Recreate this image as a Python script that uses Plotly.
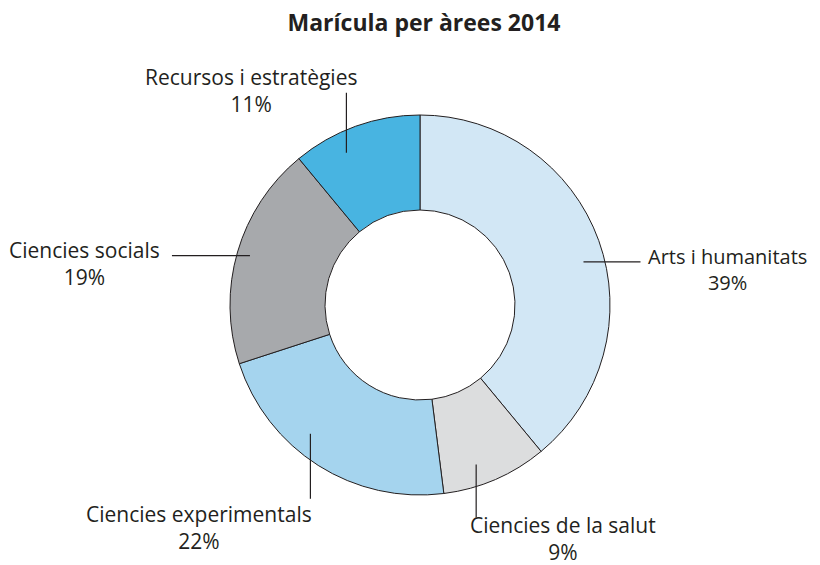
import math

import plotly.graph_objects as go

# dades
areas = [
    "Arts i humanitats",
    "Ciencies de la salut",
    "Ciencies experimentals",
    "Ciencies socials",
    "Recursos i estratègies",
]
percentatges = [39, 9, 22, 19, 11]
colors = ["#D2E7F5", "#DCDDDE", "#A5D4EE", "#A7A9AC", "#48B4E1"]

FONT = "Open Sans"
TEXT_COLOR = "#231F20"

# estil de les etiquetes: gir de l'angle (graus), radi d'inici de la línia (paper),
# direcció de la línia, longitud (px), ancoratge, desplaçament i mida del text
label_style = {
    "Arts i humanitats": {"dang": 5, "r": 0.445, "dir": (1, 0), "len": 57, "xanchor": "left", "dx": 6, "dy": -8, "size": 20},
    "Ciencies de la salut": {"dang": 4, "r": 0.445, "dir": (0, -1), "len": 53, "xanchor": "left", "dx": -8, "dy": -21, "size": 21},
    "Ciencies experimentals": {"dang": 8, "r": 0.445, "dir": (0, -1), "len": 65, "xanchor": "right", "dx": 4, "dy": -29, "size": 21},
    "Ciencies socials": {"dang": 0, "r": 0.466, "dir": (-1, 0), "len": 78, "xanchor": "right", "dx": -10, "dy": -8, "size": 21},
    "Recursos i estratègies": {"dang": -6, "r": 0.445, "dir": (0, 1), "len": 60, "xanchor": "right", "dx": 13, "dy": 2, "size": 21},
}

# àrea de dibuix quadrada de 380 px: el radi del pastís és 0.5 en coordenades paper
PLOT_PX = 380.0

fig = go.Figure(
    go.Pie(
        labels=areas,
        values=percentatges,
        hole=0.5,
        sort=False,
        direction="clockwise",
        rotation=0,
        marker={"colors": colors, "line": {"color": "#231F20", "width": 1}},
        textinfo="none",
        hoverinfo="label+percent",
        showlegend=False,
    )
)

total = sum(percentatges)
acc = 0.0
shapes = []
annotations = []
for area, val in zip(areas, percentatges):
    st = label_style[area]
    mid = ((acc + val / 2) / total * 360 + st["dang"]) * math.pi / 180
    acc += val
    x0 = 0.5 + st["r"] * math.sin(mid)
    y0 = 0.5 + st["r"] * math.cos(mid)
    x1 = x0 + st["dir"][0] * st["len"] / PLOT_PX
    y1 = y0 + st["dir"][1] * st["len"] / PLOT_PX
    shapes.append(
        dict(
            type="line",
            xref="paper",
            yref="paper",
            x0=x0,
            y0=y0,
            x1=x1,
            y1=y1,
            line={"color": "#231F20", "width": 1.2},
        )
    )
    annotations.append(
        dict(
            x=x1,
            y=y1,
            xref="paper",
            yref="paper",
            text=f"{area}<br>{val}%",
            showarrow=False,
            xanchor=st["xanchor"],
            yanchor="middle",
            align="center",
            xshift=st["dx"],
            yshift=st["dy"],
            font={"family": FONT, "size": st["size"], "color": TEXT_COLOR},
        )
    )

# la pàgina HTML té un marge de 8 px, per això tot es desplaça 8 px amunt i a l'esquerra
fig.update_layout(
    width=820,
    height=565,
    title={
        "text": "<b>Marícula per àrees 2014</b>",
        "x": 416 / 820,
        "xanchor": "center",
        "y": 1 - 15 / 565,
        "yanchor": "middle",
        "font": {"family": FONT, "size": 23, "color": TEXT_COLOR},
    },
    margin={"l": 222, "r": 218, "t": 107, "b": 78, "autoexpand": False},
    paper_bgcolor="white",
    plot_bgcolor="white",
    shapes=shapes,
    annotations=annotations,
)

fig.write_html("out.html")
